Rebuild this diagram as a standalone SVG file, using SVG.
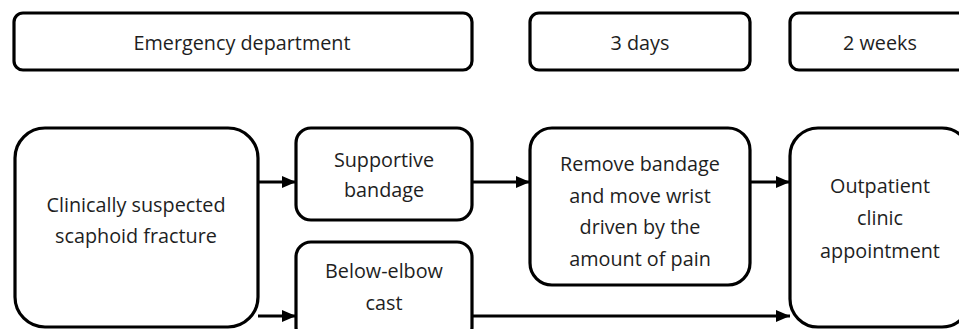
<svg xmlns="http://www.w3.org/2000/svg" width="959" height="329" viewBox="0 0 959 329">
<defs>
<style>
.box{fill:#fff;stroke:#000;stroke-width:3.2}
.t{font-family:"Open Sans","Liberation Sans",sans-serif;font-size:19.8px;fill:#1e1e1e;text-anchor:middle}
.c{stroke:#000;stroke-width:3.2;fill:none}
</style>
<marker id="ah" viewBox="0 0 14 12" refX="14" refY="6" markerWidth="14" markerHeight="12" markerUnits="userSpaceOnUse" orient="auto">
<path d="M0,0 L14,6 L0,12 z" fill="#000"/>
</marker>
</defs>
<rect width="959" height="329" fill="#fff"/>
<g id="emergency">
<rect class="box" x="14" y="13" width="458" height="57" rx="9"/>
<text class="t" x="242" y="50">Emergency department</text>
</g>
<g id="days3">
<rect class="box" x="530" y="13" width="220" height="57" rx="9"/>
<text class="t" x="640" y="50">3 days</text>
</g>
<g id="weeks2">
<rect class="box" x="790" y="13" width="180" height="57" rx="9"/>
<text class="t" x="880" y="50">2 weeks</text>
</g>
<g id="suspected">
<rect class="box" x="15" y="128" width="243" height="199" rx="30"/>
<text class="t" x="136" y="212">Clinically suspected</text>
<text class="t" x="136" y="243">scaphoid fracture</text>
</g>
<g id="bandage">
<rect class="box" x="296" y="128" width="176" height="92" rx="15"/>
<text class="t" x="384" y="167">Supportive</text>
<text class="t" x="384" y="197">bandage</text>
</g>
<g id="cast">
<rect class="box" x="296" y="242" width="176" height="100" rx="15"/>
<text class="t" x="384" y="278">Below-elbow</text>
<text class="t" x="384" y="310">cast</text>
</g>
<g id="remove">
<rect class="box" x="530" y="128" width="220" height="157" rx="22"/>
<text class="t" x="640" y="171">Remove bandage</text>
<text class="t" x="640" y="203">and move wrist</text>
<text class="t" x="640" y="234">driven by the</text>
<text class="t" x="640" y="266">amount of pain</text>
</g>
<g id="outpatient">
<rect class="box" x="790" y="128" width="180" height="199" rx="28"/>
<text class="t" x="880" y="193">Outpatient</text>
<text class="t" x="880" y="225">clinic</text>
<text class="t" x="880" y="258">appointment</text>
</g>
<g id="connectors">
<line class="c" x1="258" y1="182" x2="296" y2="182" marker-end="url(#ah)"/>
<line class="c" x1="472" y1="182" x2="530" y2="182" marker-end="url(#ah)"/>
<line class="c" x1="750" y1="182" x2="790" y2="182" marker-end="url(#ah)"/>
<line class="c" x1="258" y1="316" x2="296" y2="316" marker-end="url(#ah)"/>
<line class="c" x1="472" y1="316" x2="790" y2="316" marker-end="url(#ah)"/>
</g>
</svg>
